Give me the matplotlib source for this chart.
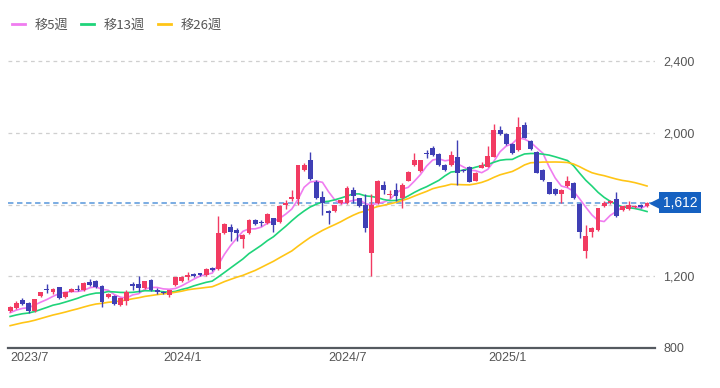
import numpy as np
import pandas as pd
import matplotlib
matplotlib.use("Agg")
import matplotlib.pyplot as plt
from matplotlib.lines import Line2D
import matplotlib.transforms as mtransforms

# weekly candles, 2023/7 .. 2025/6
opens = [1008, 1025, 1068, 1052, 1004, 1088, 1132, 1112, 1138, 1084,
         1115, 1130, 1123, 1166, 1175, 1146, 1083, 1090, 1040, 1060,
         1156, 1156, 1134, 1179, 1123, 1115, 1095, 1151, 1175, 1197,
         1211, 1216, 1207, 1248, 1240, 1443, 1475, 1458, 1406, 1440,
         1514, 1506, 1497, 1523, 1506, 1600, 1630, 1634, 1795, 1848,
         1729, 1640, 1564, 1562, 1610, 1607, 1681, 1635, 1597, 1333,
         1607, 1709, 1655, 1681, 1640, 1734, 1820, 1789, 1887, 1919,
         1885, 1820, 1820, 1868, 1792, 1812, 1734, 1807, 1812, 1868,
         2015, 1997, 1941, 1904, 2043, 1956, 1896, 1796, 1724, 1690,
         1658, 1703, 1723, 1603, 1339, 1445, 1458, 1592, 1607, 1630,
         1569, 1575, 1585, 1597, 1590]
highs = [1035, 1064, 1080, 1058, 1075, 1115, 1155, 1136, 1142, 1114,
         1134, 1150, 1168, 1185, 1180, 1150, 1105, 1095, 1080, 1125,
         1168, 1201, 1176, 1183, 1135, 1120, 1126, 1197, 1200, 1225,
         1220, 1220, 1244, 1252, 1537, 1496, 1490, 1470, 1434, 1518,
         1520, 1512, 1554, 1528, 1597, 1625, 1680, 1824, 1830, 1894,
         1735, 1677, 1569, 1600, 1628, 1705, 1700, 1640, 1660, 1662,
         1738, 1734, 1680, 1720, 1720, 1790, 1890, 1852, 1905, 1925,
         1890, 1825, 1900, 1960, 1800, 1818, 1782, 1840, 1930, 2049,
         2040, 2000, 1945, 2090, 2060, 1960, 1900, 1800, 1728, 1694,
         1688, 1760, 1727, 1607, 1486, 1473, 1583, 1620, 1627, 1668,
         1594, 1620, 1600, 1601, 1616]
lows = [1000, 1020, 1040, 998, 1000, 1082, 1105, 1100, 1075, 1080,
        1110, 1120, 1118, 1148, 1135, 1030, 1078, 1040, 1035, 1040,
        1123, 1115, 1130, 1120, 1100, 1100, 1085, 1148, 1170, 1180,
        1195, 1200, 1203, 1230, 1236, 1438, 1400, 1400, 1360, 1436,
        1485, 1480, 1493, 1450, 1500, 1575, 1620, 1600, 1790, 1738,
        1630, 1542, 1491, 1558, 1605, 1603, 1610, 1585, 1450, 1200,
        1603, 1660, 1640, 1620, 1580, 1730, 1815, 1785, 1860, 1870,
        1815, 1790, 1815, 1709, 1780, 1725, 1730, 1803, 1808, 1864,
        1990, 1933, 1883, 1900, 1970, 1905, 1775, 1733, 1658, 1654,
        1607, 1699, 1632, 1412, 1300, 1420, 1454, 1588, 1603, 1530,
        1565, 1571, 1581, 1581, 1586]
closes = [1030, 1052, 1043, 1004, 1071, 1110, 1125, 1132, 1079, 1110,
          1130, 1125, 1164, 1151, 1139, 1058, 1101, 1043, 1077, 1115,
          1146, 1134, 1172, 1123, 1115, 1106, 1123, 1194, 1197, 1207,
          1201, 1207, 1240, 1235, 1443, 1492, 1450, 1440, 1430, 1514,
          1491, 1497, 1550, 1485, 1593, 1611, 1640, 1820, 1820, 1741,
          1636, 1607, 1555, 1597, 1625, 1693, 1646, 1590, 1469, 1597,
          1734, 1681, 1662, 1646, 1709, 1785, 1852, 1848, 1883, 1878,
          1820, 1795, 1876, 1776, 1788, 1729, 1779, 1820, 1870, 2015,
          1993, 1937, 1887, 2035, 1974, 1909, 1779, 1737, 1662, 1658,
          1684, 1734, 1636, 1450, 1424, 1469, 1579, 1607, 1623, 1534,
          1590, 1597, 1595, 1585, 1612]
# closes before the window (not drawn), estimated so the averages start where they do
prior_closes = [840, 835, 850, 860, 855, 870, 880, 875, 890, 885, 900, 905, 910,
                940, 955, 950, 965, 960, 975, 970, 985, 980, 995, 985, 995]

x_labels = ["2023/7", "2024/1", "2024/7", "2025/1"]
x_label_idx = [0, 25, 52, 78]
ma_windows = [5, 13, 26]
ma_names = ["移5週", "移13週", "移26週"]
last_price = closes[-1]

UP = "#f23b62"
DOWN = "#3f3fb5"
MA_COLORS = ["#f07cf0", "#1fd47a", "#ffc516"]

plt.rcParams["font.family"] = ["Liberation Sans", "DejaVu Sans"]

fig = plt.figure(figsize=(7.2, 3.88), dpi=100)
ax = fig.add_axes([8 / 720, 1 - 348 / 388, 647 / 720, 301 / 388])

o = np.array(opens, dtype=float)
h = np.array(highs, dtype=float)
l = np.array(lows, dtype=float)
c = np.array(closes, dtype=float)
n = len(c)
idx = np.arange(n)
up = c >= o
cols = np.where(up, UP, DOWN)

# moving averages
full = pd.Series(prior_closes + closes, dtype=float)
for w, col in zip(ma_windows, MA_COLORS):
    ma = full.rolling(w).mean().values[len(prior_closes):]
    ax.plot(idx, ma, color=col, lw=1.2, zorder=3)

# candles
ax.vlines(idx, l, h, colors=cols, lw=1.0, zorder=4)
body_lo = np.minimum(o, c)
body_h = np.maximum(np.abs(c - o), 5)
ax.bar(idx, body_h, bottom=body_lo, width=0.8, color=cols, lw=0, zorder=5)

# grid
for g in [1200, 1600, 2000, 2400]:
    ax.axhline(g, color="#cfcfcf", lw=0.9, ls=(0, (3, 3)), zorder=1)

# current price line + tag
ax.axhline(last_price, color="#6fa6e0", lw=1.3, ls=(0, (3, 2)), zorder=2)
trans = mtransforms.blended_transform_factory(ax.transAxes, ax.transData)
ax.plot([1.0], [last_price], marker="<", markersize=7, color="#1561c1",
        transform=trans, clip_on=False, zorder=10)
ax.text(1.012, last_price, f"{last_price:,}", transform=trans, ha="left", va="center",
        color="white", fontsize=10, zorder=11,
        bbox=dict(boxstyle="square,pad=0.25", fc="#1561c1", ec="none"))

ax.set_xlim(-0.35, n + 0.3)
ax.set_ylim(800, 2480)

ax.yaxis.tick_right()
ax.set_yticks([800, 1200, 2000, 2400])
ax.set_yticklabels([f"{v:,}" for v in [800, 1200, 2000, 2400]])
ax.tick_params(axis="y", length=0, pad=6, labelsize=9, labelcolor="#555555")

ax.set_xticks(x_label_idx)
ax.set_xticklabels(x_labels, ha="left")
ax.tick_params(axis="x", length=0, pad=3, labelsize=9, labelcolor="#555555")

for s in ["top", "left", "right"]:
    ax.spines[s].set_visible(False)
ax.spines["bottom"].set_color("#555a60")
ax.spines["bottom"].set_linewidth(1.6)

handles = [Line2D([], [], color=col, lw=2) for col in MA_COLORS]
leg = fig.legend(handles, ma_names, loc="center left", bbox_to_anchor=(0.0, 1 - 25 / 388),
                 ncol=3, frameon=False, handlelength=1.0, handletextpad=0.7,
                 columnspacing=1.0, prop={"family": ["Noto Sans CJK JP", "DejaVu Sans"], "size": 9.5})
for t in leg.get_texts():
    t.set_color("#555555")

fig.savefig("out.png", dpi=100)
